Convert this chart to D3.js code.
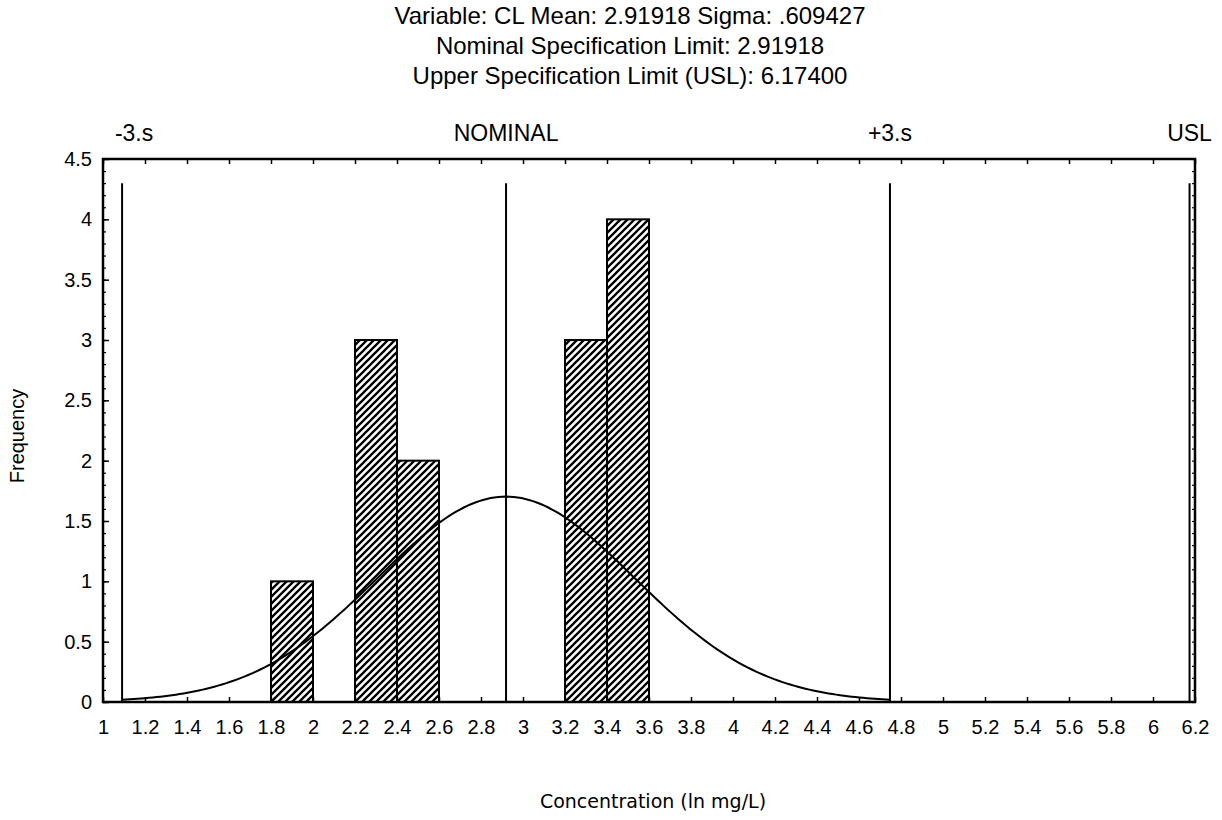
<!DOCTYPE html>
<html>
<head>
<meta charset="utf-8">
<script src="https://cdn.jsdelivr.net/npm/d3@7"></script>
<style>
  body { margin: 0; background: #fff; }
  text { font-family: "Liberation Sans", Arial, sans-serif; fill: #000; }
</style>
</head>
<body>
<div class="chart"></div>
<script>
'use strict';
(function() {
  // Data
  var binStarts = [1.8, 2.2, 2.4, 3.2, 3.4];
  var binCounts = [1, 3, 2, 3, 4];
  var binWidth = 0.2;
  var mean = 2.91918;
  var sigma = 0.609427;
  var usl = 6.174;
  var specNames = ['-3.s', 'NOMINAL', '+3.s', 'USL'];
  var specValues = [mean - 3 * sigma, mean, mean + 3 * sigma, usl];
  var xTicks = [1, 1.2, 1.4, 1.6, 1.8, 2, 2.2, 2.4, 2.6, 2.8, 3, 3.2, 3.4, 3.6, 3.8, 4, 4.2, 4.4, 4.6, 4.8, 5, 5.2, 5.4, 5.6, 5.8, 6, 6.2];
  var yTicks = [0, 0.5, 1, 1.5, 2, 2.5, 3, 3.5, 4, 4.5];
  var titleLines = [
    'Variable: CL Mean: 2.91918 Sigma: .609427',
    'Nominal Specification Limit: 2.91918',
    'Upper Specification Limit (USL): 6.17400'
  ];

  var w = 1222;
  var h = 820;
  var left = 103, right = 1195, top = 159, bottom = 702;

  var svg = d3.select('.chart')
    .append('svg')
    .attr('width', w)
    .attr('height', h);

  svg.append('rect').attr('width', w).attr('height', h).attr('fill', '#fff');

  // Hatch pattern for bars
  var defs = svg.append('defs');
  defs.append('pattern')
    .attr('id', 'hatch')
    .attr('patternUnits', 'userSpaceOnUse')
    .attr('width', 7)
    .attr('height', 7)
    .append('path')
    .attr('d', 'M-2,2 l4,-4 M0,7 l7,-7 M5,9 l4,-4')
    .attr('stroke', '#000')
    .attr('stroke-width', 2.3);

  var xScale = d3.scaleLinear().domain([1, 6.2]).range([left, right]);
  var yScale = d3.scaleLinear().domain([0, 4.5]).range([bottom, top]);

  // Titles
  svg.append('g')
    .selectAll('text')
    .data(titleLines)
    .enter()
    .append('text')
    .attr('x', 630)
    .attr('y', function(d, i) { return 24 + i * 30; })
    .attr('text-anchor', 'middle')
    .style('font-size', '24px')
    .text(function(d) { return d; });

  // Minor ticks
  var yMinor = d3.range(0, 46).map(function(i) { return i / 10; });

  // Bottom axis
  svg.append('g')
    .attr('transform', 'translate(0,' + bottom + ')')
    .call(d3.axisBottom(xScale).tickValues(xTicks).tickSizeInner(-5).tickSizeOuter(0).tickPadding(18)
      .tickFormat(d3.format('~g')))
    .call(function(g) {
      g.select('.domain').remove();
      g.selectAll('line').attr('stroke', '#000').attr('stroke-width', 1.5);
      g.selectAll('text').style('font-size', '20px').style('font-family', '"Liberation Sans", Arial, sans-serif');
    });

  // Top axis ticks
  svg.append('g')
    .attr('transform', 'translate(0,' + top + ')')
    .call(d3.axisTop(xScale).tickValues(xTicks).tickSizeInner(-5).tickSizeOuter(0).tickFormat(''))
    .call(function(g) {
      g.select('.domain').remove();
      g.selectAll('line').attr('stroke', '#000').attr('stroke-width', 1.5);
    });

  // Left axis
  svg.append('g')
    .attr('transform', 'translate(' + left + ',0)')
    .call(d3.axisLeft(yScale).tickValues(yTicks).tickSizeInner(-6).tickSizeOuter(0).tickPadding(11)
      .tickFormat(d3.format('~g')))
    .call(function(g) {
      g.select('.domain').remove();
      g.selectAll('line').attr('stroke', '#000').attr('stroke-width', 1.5);
      g.selectAll('text').style('font-size', '20px').style('font-family', '"Liberation Sans", Arial, sans-serif');
    });

  svg.append('g')
    .attr('transform', 'translate(' + left + ',0)')
    .call(d3.axisLeft(yScale).tickValues(yMinor).tickSizeInner(-3).tickSizeOuter(0).tickFormat(''))
    .call(function(g) {
      g.select('.domain').remove();
      g.selectAll('line').attr('stroke', '#000').attr('stroke-width', 1.2);
    });

  // Right axis ticks
  svg.append('g')
    .attr('transform', 'translate(' + right + ',0)')
    .call(d3.axisRight(yScale).tickValues(yMinor).tickSizeInner(-3).tickSizeOuter(0).tickFormat(''))
    .call(function(g) {
      g.select('.domain').remove();
      g.selectAll('line').attr('stroke', '#000').attr('stroke-width', 1.2);
    });

  // Bars
  svg.append('g')
    .selectAll('rect')
    .data(binStarts)
    .enter()
    .append('rect')
    .attr('x', function(d) { return xScale(d); })
    .attr('y', function(d, i) { return yScale(binCounts[i]); })
    .attr('width', function(d) { return xScale(d + binWidth) - xScale(d); })
    .attr('height', function(d, i) { return yScale(0) - yScale(binCounts[i]); })
    .attr('fill', 'url(#hatch)')
    .attr('stroke', '#000')
    .attr('stroke-width', 2);

  // Spec lines
  svg.append('g')
    .selectAll('line')
    .data(specValues)
    .enter()
    .append('line')
    .attr('x1', function(d) { return xScale(d); })
    .attr('x2', function(d) { return xScale(d); })
    .attr('y1', yScale(0))
    .attr('y2', yScale(4.3))
    .attr('stroke', '#000')
    .attr('stroke-width', 2);

  svg.append('g')
    .selectAll('text')
    .data(specValues)
    .enter()
    .append('text')
    .attr('x', function(d) { return xScale(d); })
    .attr('dx', function(d, i) { return i === 0 ? 12 : 0; })
    .attr('y', 141)
    .attr('text-anchor', 'middle')
    .style('font-size', '23px')
    .text(function(d, i) { return specNames[i]; });

  // Fitted normal curve (expected frequency per bin)
  var total = d3.sum(binCounts);
  var curveXs = d3.range(0, 201).map(function(i) {
    return specValues[0] + (specValues[2] - specValues[0]) * i / 200;
  });
  var line = d3.line()
    .x(function(d) { return xScale(d); })
    .y(function(d) {
      var z = (d - mean) / sigma;
      return yScale(total * binWidth * Math.exp(-z * z / 2) / (sigma * Math.sqrt(2 * Math.PI)));
    });

  svg.append('path')
    .datum(curveXs)
    .attr('d', line)
    .attr('fill', 'none')
    .attr('stroke', '#000')
    .attr('stroke-width', 2);

  // Frame
  svg.append('rect')
    .attr('x', left)
    .attr('y', top)
    .attr('width', right - left)
    .attr('height', bottom - top)
    .attr('fill', 'none')
    .attr('stroke', '#000')
    .attr('stroke-width', 2.5);

  // Axis titles
  svg.append('text')
    .attr('transform', 'translate(24,436) rotate(-90)')
    .attr('text-anchor', 'middle')
    .style('font-size', '20px')
    .text('Frequency');

  svg.append('text')
    .attr('x', 653)
    .attr('y', 808)
    .attr('text-anchor', 'middle')
    .style('font-family', '"DejaVu Sans", Verdana, sans-serif')
    .style('font-size', '19px')
    .text('Concentration (ln mg/L)');
})();
</script>
</body>
</html>
